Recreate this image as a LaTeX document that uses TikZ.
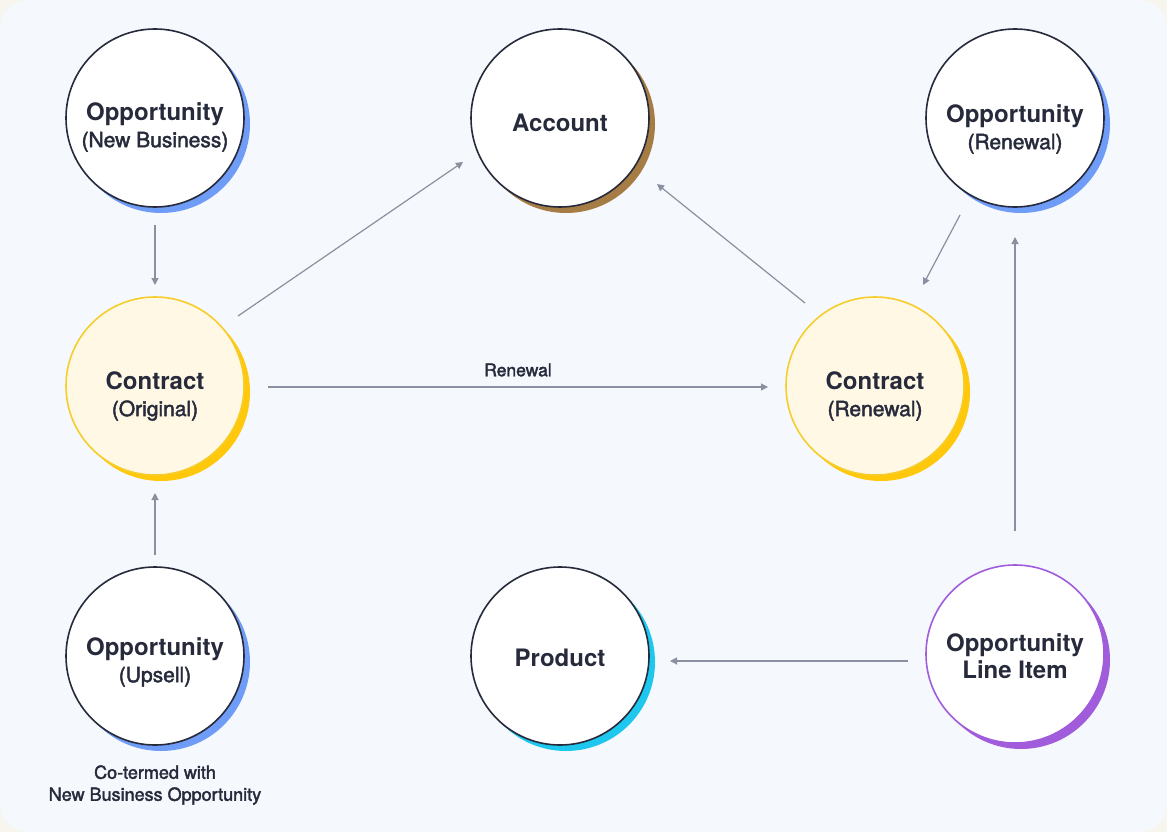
\documentclass[tikz,border=0pt]{standalone}
\usepackage{fontspec}
\setmainfont{TeX Gyre Heros}
\usetikzlibrary{arrows.meta}
\definecolor{ink}{HTML}{262A3B}
\definecolor{bgc}{HTML}{F5F8FD}
\definecolor{outc}{HTML}{F8F4EE}
\definecolor{arr}{HTML}{8B90A0}
\definecolor{sblue}{HTML}{6E9CF6}
\definecolor{sbrown}{HTML}{A67C45}
\definecolor{syellow}{HTML}{FFC80A}
\definecolor{byellow}{HTML}{F6CD2C}
\definecolor{fyellow}{HTML}{FFF8E4}
\definecolor{scyan}{HTML}{1DC7EE}
\definecolor{spurple}{HTML}{A05CDB}
\tikzset{
  ent/.style={circle, minimum size=178pt, inner sep=0pt, draw=ink, line width=1.6pt, fill=white},
  yent/.style={ent, draw=byellow, fill=fyellow},
  pent/.style={ent, draw=spurple},
  lbl/.style={text=ink, align=center, inner sep=0pt, font=\fontsize{24}{27}\selectfont},
  conn/.style={draw=arr, line width=1.2pt, -{Triangle[length=7pt,width=7pt]}},
  small/.style={text=ink, align=center, inner sep=0pt}
}
\newcommand{\subl}[1]{{\fontsize{21}{27}\selectfont\addfontfeature{FakeBold=2}#1}}
\newcommand{\ttlx}[1]{{\bfseries #1}}
\begin{document}
\begin{tikzpicture}[x=1pt,y=-1pt]
\fill[outc] (0,0) rectangle (1167,832);
\fill[bgc, rounded corners=28pt] (0,0) rectangle (1167,832);
\useasboundingbox (0,0) rectangle (1167,832);
% shadows
\fill[sblue] (161,124) circle (89);
\fill[sbrown] (566,124) circle (89);
\fill[sblue] (1021,124) circle (89);
\fill[syellow] (161,392) circle (89);
\fill[syellow] (881,392) circle (89);
\fill[sblue] (161,662) circle (89);
\fill[scyan] (566,662) circle (89);
\fill[spurple] (1021,660) circle (89);
% circles
\node[ent] (onb) at (155,118) {};
\node[ent] (acc) at (560,118) {};
\node[ent] (ore) at (1015,118) {};
\node[yent] (cor) at (155,386) {};
\node[yent] (cre) at (875,386) {};
\node[ent] (oup) at (155,656) {};
\node[ent] (prd) at (560,656) {};
\node[pent] (oli) at (1015,654) {};
% labels
\node[lbl] (onbt) at (155,127) {\ttlx{Opportunity}\\\subl{(New Business)}};
\node[lbl] (acct) at (560,123) {\ttlx{Account}};
\node[lbl] (oret) at (1015,129) {\ttlx{Opportunity}\\\subl{(Renewal)}};
\node[lbl] (cort) at (155,396) {\ttlx{Contract}\\\subl{(Original)}};
\node[lbl] (cret) at (875,396) {\ttlx{Contract}\\\subl{(Renewal)}};
\node[lbl] (oupt) at (155,662) {\ttlx{Opportunity}\\\subl{(Upsell)}};
\node[lbl] (prdt) at (560,658) {\ttlx{Product}};
\node[lbl] (olit) at (1015,656) {\ttlx{Opportunity}\\\ttlx{Line Item}};
% connector end points
\coordinate (a1) at (155,225); \coordinate (a2) at (155,285);
\coordinate (b1) at (238,316); \coordinate (b2) at (463,162);
\coordinate (c1) at (268,387); \coordinate (c2) at (768,387);
\coordinate (d1) at (805,303); \coordinate (d2) at (657,184);
\coordinate (e1) at (960,215); \coordinate (e2) at (923,285);
\coordinate (f1) at (1015,531); \coordinate (f2) at (1015,237);
\coordinate (g1) at (908,661); \coordinate (g2) at (670,661);
\coordinate (h1) at (155,555); \coordinate (h2) at (155,493);
\draw[conn] (a1) -- (a2);
\draw[conn] (b1) -- (b2);
\draw[conn] (c1) -- (c2);
\node[small, font=\fontsize{17.5}{20}\selectfont\addfontfeature{FakeBold=2}] (rl) at (518,370) {Renewal};
\draw[conn] (d1) -- (d2);
\draw[conn] (e1) -- (e2);
\draw[conn] (f1) -- (f2);
\draw[conn] (g1) -- (g2);
\draw[conn] (h1) -- (h2);
\node[small, font=\fontsize{18}{22}\selectfont\addfontfeature{FakeBold=2}] (cot) at (155,785) {Co-termed with\\New Business Opportunity};
\end{tikzpicture}
\end{document}
